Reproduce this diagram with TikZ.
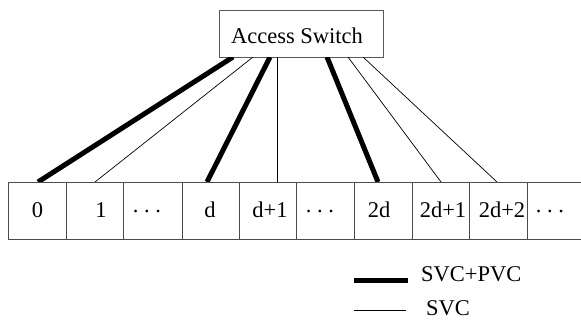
\documentclass[tikz,border=0pt]{standalone}
\usepackage{fontspec}
\setmainfont{Liberation Serif}
\begin{document}
\begin{tikzpicture}[x=1pt,y=-1pt,
  every node/.style={font=\fontsize{22.5}{25}\selectfont, inner sep=0pt},
  grid/.style={draw=black!70, line width=0.9pt},
  boxstyle/.style={draw=black!65, line width=0.9pt, fill=white, minimum width=164pt, minimum height=47pt},
  label/.style={anchor=center},
  strong/.style={line width=5pt, line cap=butt},
  weak/.style={line width=0.7pt},
  legendtext/.style={anchor=west}]
\useasboundingbox (0,0) rectangle (581,322);
\fill[white] (0,0) rectangle (581,322);
% access switch
\node[boxstyle] (sw) at (301,33.5) {};
\node (swt) at (297,35.5) {Access Switch};
% endpoints on switch bottom
\coordinate (sA) at (233,57);
\coordinate (sB) at (253,57);
\coordinate (sC) at (270,57);
\coordinate (sD) at (277,57);
\coordinate (sE) at (327,57);
\coordinate (sF) at (348,57);
\coordinate (sG) at (363,57);
% endpoints on cells top
\coordinate (tA) at (38,182);
\coordinate (tB) at (95,182);
\coordinate (tC) at (207,182);
\coordinate (tD) at (277,182);
\coordinate (tE) at (378,182);
\coordinate (tF) at (441,182);
\coordinate (tG) at (497,182);
\begin{scope}
\clip (0,57) rectangle (581,182.5);
\draw[strong] (sA) -- (tA);
\draw[weak] (sB) -- (tB);
\draw[strong] (sC) -- (tC);
\draw[weak] (sD) -- (tD);
\draw[strong] (sE) -- (tE);
\draw[weak] (sF) -- (tF);
\draw[weak] (sG) -- (tG);
\end{scope}
% cell row
\draw[grid] (581,182.5) -- (8,182.5) -- (8,239) -- (581,239);
\foreach \xx in {66,123,182,239,296,354,412,469,527}
  \draw[grid] (\xx,182.5) -- (\xx,239);
\node[label] (l0) at (37.5,210) {0};
\node[label] (l1) at (101,210) {1};
\node[label] (l2) at (147,211) {.\ .\ .};
\node[label] (l3) at (210,210) {d};
\node[label] (l4) at (270,210) {d+1};
\node[label] (l5) at (320,211) {.\ .\ .};
\node[label] (l6) at (379,210) {2d};
\node[label] (l7) at (443,210) {2d+1};
\node[label] (l8) at (502,210) {2d+2};
\node[label] (l9) at (550,211) {.\ .\ .};
% legend
\coordinate (k1a) at (354,280);
\coordinate (k1b) at (408,280);
\coordinate (k2a) at (354,310);
\coordinate (k2b) at (406,310);
\draw[strong] (k1a) -- (k1b);
\draw[weak] (k2a) -- (k2b);
\node[legendtext] (t1) at (421,274) {SVC+PVC};
\node[legendtext] (t2) at (426,308) {SVC};
\end{tikzpicture}
\end{document}
